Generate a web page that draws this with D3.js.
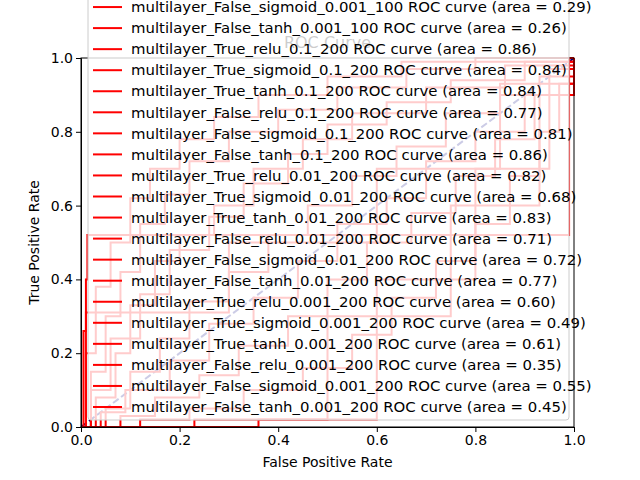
<!DOCTYPE html>
<html><head><meta charset="utf-8">
<script src="https://cdn.jsdelivr.net/npm/d3@7"></script>
<style>body{margin:0;background:#fff;font-family:"DejaVu Sans",sans-serif;}</style>
</head><body><div id="chart"></div>
<script>
const legendLabels = [
  "multilayer_False_sigmoid_0.001_100 ROC curve (area = 0.29)",
  "multilayer_False_tanh_0.001_100 ROC curve (area = 0.26)",
  "multilayer_True_relu_0.1_200 ROC curve (area = 0.86)",
  "multilayer_True_sigmoid_0.1_200 ROC curve (area = 0.84)",
  "multilayer_True_tanh_0.1_200 ROC curve (area = 0.84)",
  "multilayer_False_relu_0.1_200 ROC curve (area = 0.77)",
  "multilayer_False_sigmoid_0.1_200 ROC curve (area = 0.81)",
  "multilayer_False_tanh_0.1_200 ROC curve (area = 0.86)",
  "multilayer_True_relu_0.01_200 ROC curve (area = 0.82)",
  "multilayer_True_sigmoid_0.01_200 ROC curve (area = 0.68)",
  "multilayer_True_tanh_0.01_200 ROC curve (area = 0.83)",
  "multilayer_False_relu_0.01_200 ROC curve (area = 0.71)",
  "multilayer_False_sigmoid_0.01_200 ROC curve (area = 0.72)",
  "multilayer_False_tanh_0.01_200 ROC curve (area = 0.77)",
  "multilayer_True_relu_0.001_200 ROC curve (area = 0.60)",
  "multilayer_True_sigmoid_0.001_200 ROC curve (area = 0.49)",
  "multilayer_True_tanh_0.001_200 ROC curve (area = 0.61)",
  "multilayer_False_relu_0.001_200 ROC curve (area = 0.35)",
  "multilayer_False_sigmoid_0.001_200 ROC curve (area = 0.55)",
  "multilayer_False_tanh_0.001_200 ROC curve (area = 0.45)"
];
const ticks = [0, 0.2, 0.4, 0.6, 0.8, 1.0];

// staircase ROC curves [fpr, tpr]
const curveA = [[0,0],[0.02,0.15],[0.05,0.3],[0.08,0.42],[0.12,0.55],[0.17,0.63],[0.22,0.72],[0.3,0.8],[0.4,0.86],[0.52,0.92],[0.66,0.97],[0.8,1],[1,1]];
const curveB = [[0,0],[0.03,0.08],[0.07,0.2],[0.1,0.33],[0.15,0.45],[0.2,0.52],[0.27,0.6],[0.35,0.7],[0.45,0.78],[0.55,0.85],[0.7,0.92],[0.86,0.98],[1,1]];
const curveC = [[0,0],[0.05,0.05],[0.1,0.15],[0.16,0.24],[0.22,0.34],[0.3,0.42],[0.38,0.52],[0.46,0.6],[0.55,0.68],[0.64,0.76],[0.74,0.85],[0.85,0.93],[1,1]];
const curveD = [[0,0],[0.08,0.03],[0.15,0.08],[0.24,0.14],[0.32,0.22],[0.42,0.3],[0.5,0.4],[0.58,0.5],[0.67,0.58],[0.76,0.68],[0.84,0.78],[0.92,0.9],[1,1]];
const curveE = [[0,0],[0.01,0.2],[0.03,0.38],[0.06,0.5],[0.1,0.62],[0.14,0.7],[0.2,0.78],[0.27,0.84],[0.36,0.9],[0.5,0.95],[0.65,0.99],[1,1]];
const curveF = [[0,0],[0.12,0.02],[0.22,0.05],[0.33,0.1],[0.45,0.16],[0.55,0.25],[0.63,0.35],[0.72,0.45],[0.8,0.55],[0.87,0.68],[0.93,0.8],[0.97,0.93],[1,1]];
const curveG = [[0,0],[0.02,0.1],[0.06,0.24],[0.12,0.36],[0.18,0.48],[0.26,0.57],[0.33,0.66],[0.42,0.74],[0.5,0.82],[0.62,0.88],[0.75,0.94],[0.9,0.99],[1,1]];
const curveH = [[0,0],[0.04,0.04],[0.09,0.1],[0.18,0.18],[0.26,0.28],[0.35,0.35],[0.44,0.45],[0.52,0.55],[0.62,0.62],[0.7,0.72],[0.8,0.8],[0.9,0.9],[1,1]];
const curveI = [[0,0],[0.01,0.4],[0.013,0.52],[0.99,0.85],[0.99,1],[1,1]];
const curveJ = [[0,0],[0.36,0.0],[0.36,0.02],[0.6,0.4],[0.8,0.7],[0.95,0.97],[1,1]];
const curveK = [[0,0],[0.23,0.0],[0.23,0.02],[0.5,0.3],[0.75,0.6],[0.93,0.95],[1,1]];
const curveL = [[0,0],[0.005,0.26],[0.01,0.31],[0.3,0.5],[0.6,0.7],[0.85,0.9],[1,1]];
const curves = [curveA, curveB, curveC, curveD, curveE, curveF, curveG, curveH, curveI, curveJ, curveK, curveL];
const diagonal = [[0,0],[1,1]];

const W = 640, H = 480;
const m = {left: 81, right: 66, top: 58, bottom: 53};
const svg = d3.select("#chart").append("svg").attr("width", W).attr("height", H);
const x = d3.scaleLinear().domain([0, 1]).range([m.left, W - m.right]);
const y = d3.scaleLinear().domain([0, 1]).range([H - m.bottom, m.top]);

svg.append("text").attr("x", (x(0) + x(1)) / 2).attr("y", 48).attr("text-anchor", "middle")
  .attr("font-size", 16).text("ROC Curve");

svg.append("defs").append("clipPath").attr("id", "clip").append("rect")
  .attr("x", x(0) - 2).attr("y", y(1) - 2).attr("width", x(1) - x(0) + 4).attr("height", y(0) - y(1) + 4);
const g = svg.append("g").attr("clip-path", "url(#clip)");

const line = d3.line().x(d => x(d[0])).y(d => y(d[1])).curve(d3.curveStepAfter);
g.append("path").attr("d", d3.line().x(d => x(d[0])).y(d => y(d[1]))(diagonal))
  .attr("fill", "none").attr("stroke", "navy").attr("stroke-width", 2).attr("stroke-dasharray", "7,3");
g.selectAll(".roc").data(curves).join("path").attr("class", "roc")
  .attr("d", line).attr("fill", "none").attr("stroke", "red").attr("stroke-width", 2);

svg.append("g").attr("transform", `translate(0,${y(0)})`)
  .call(d3.axisBottom(x).tickValues(ticks).tickFormat(d3.format(".1f")).tickSizeOuter(0).tickSize(5))
  .call(a => a.selectAll("text").attr("font-size", 14).attr("font-family", "DejaVu Sans").attr("fill", "#000"));
svg.append("g").attr("transform", `translate(${x(0)},0)`)
  .call(d3.axisLeft(y).tickValues(ticks).tickFormat(d3.format(".1f")).tickSizeOuter(0).tickSize(5))
  .call(a => a.selectAll("text").attr("font-size", 14).attr("font-family", "DejaVu Sans").attr("fill", "#000"));
svg.append("rect").attr("x", x(0)).attr("y", y(1)).attr("width", x(1) - x(0)).attr("height", y(0) - y(1))
  .attr("fill", "none").attr("stroke", "#000");

svg.append("text").attr("x", (x(0) + x(1)) / 2).attr("y", 467).attr("text-anchor", "middle")
  .attr("font-size", 14).text("False Positive Rate");
svg.append("text").attr("transform", `translate(39,${(y(0) + y(1)) / 2}) rotate(-90)`)
  .attr("text-anchor", "middle").attr("font-size", 14).text("True Positive Rate");

// legend overflowing the top
const rowH = 21.05, lastRow = 407;
const lg = svg.append("g");
lg.append("rect").attr("x", 88).attr("y", -10).attr("width", 481).attr("height", 430).attr("rx", 3)
  .attr("fill", "rgba(255,255,255,0.8)").attr("stroke", "#ccc");
const rows = lg.selectAll(".row").data(legendLabels).join("g")
  .attr("transform", (d, i) => `translate(0,${lastRow - (legendLabels.length - 1 - i) * rowH})`);
rows.append("line").attr("x1", 93).attr("x2", 122).attr("stroke", "red").attr("stroke-width", 2);
rows.append("text").attr("x", 131).attr("dy", "0.35em").attr("font-size", 14.9).text(d => d);
</script></body></html>
